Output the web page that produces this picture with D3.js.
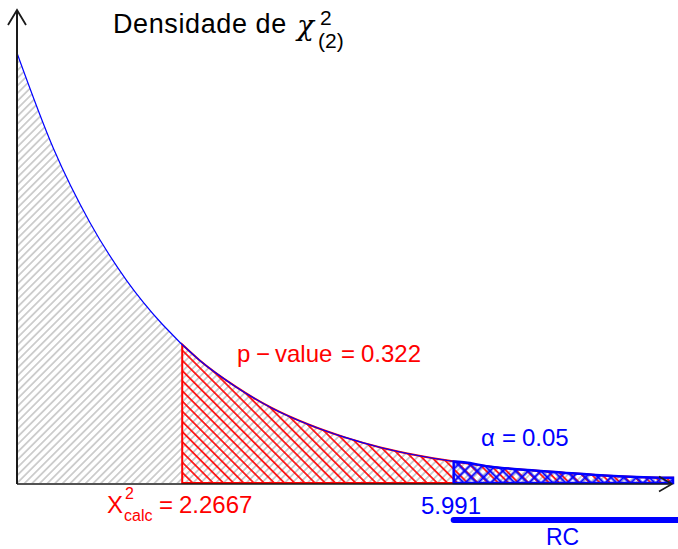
<!DOCTYPE html>
<html>
<head>
<meta charset="utf-8">
<script src="https://cdn.jsdelivr.net/npm/d3@7"></script>
<style>
  body { margin: 0; background: #fff; }
  svg { display: block; font-family: "Liberation Sans", Arial, sans-serif; }
</style>
</head>
<body>
<div id="chart"></div>
<script>
// density of chi-square (2 df)
const xVals = [0, 0.5, 1, 1.5, 2, 2.5, 3, 3.5, 4, 4.5, 5, 5.5, 6, 6.5, 7, 7.5, 8, 8.5, 9];
const densVals = [0.5, 0.389, 0.303, 0.236, 0.184, 0.143, 0.112, 0.087, 0.068, 0.053,
  0.041, 0.032, 0.025, 0.019, 0.015, 0.012, 0.009, 0.007, 0.006];
const xCalc = 2.2667;
const dCalc = 0.161;
const xCrit = 5.991;
const dCrit = 0.025;
const labels = { pValue: '0.322', alpha: '0.05', calc: '2.2667', crit: '5.991' };

const WIDTH = 678;
const HEIGHT = 549;
const RED = '#ff0000';
const BLUE = '#0000ff';

const $svg = d3.select('#chart').append('svg')
  .attr('width', WIDTH).attr('height', HEIGHT);

const scaleX = d3.scaleLinear().domain([0, 9]).range([17, 673]);
const scaleY = d3.scaleLinear().domain([0, 0.5]).range([483, 53]);

const points = xVals.map((x, i) => ({ x, y: densVals[i] }));
const from = (x0, y0) => [{ x: x0, y: y0 }].concat(points.filter(d => d.x > x0));

// hatch patterns
const $defs = $svg.append('defs');
function hatch(id, angles, gap, color, w) {
  angles.forEach((a, i) => {
    const $p = $defs.append('pattern')
      .attr('id', `${id}-${i}`)
      .attr('patternUnits', 'userSpaceOnUse')
      .attr('width', gap).attr('height', 10)
      .attr('patternTransform', `rotate(${a})`);
    $p.append('line')
      .attr('x1', gap / 2).attr('x2', gap / 2)
      .attr('y1', 0).attr('y2', 10)
      .attr('stroke', color).attr('stroke-width', w);
  });
}
hatch('gray', [45], 5.4, '#bebebe', 1.4);
hatch('red', [-45], 7.2, RED, 1.6);
hatch('blue', [45, -45], 9, BLUE, 2);

const area = d3.area()
  .x(d => scaleX(d.x)).y0(scaleY(0)).y1(d => scaleY(d.y))
  .curve(d3.curveMonotoneX);
const line = d3.line()
  .x(d => scaleX(d.x)).y(d => scaleY(d.y))
  .curve(d3.curveMonotoneX);

const $vis = $svg.append('g');

// whole area, gray
$vis.append('path').datum(points).attr('d', area)
  .attr('fill', 'url(#gray-0)');

// p-value region
const redPts = from(xCalc, dCalc);
$vis.append('path').datum(redPts).attr('d', area)
  .attr('fill', 'url(#red-0)');
$vis.append('path').datum(redPts).attr('d', d => area(d) + 'Z')
  .attr('fill', 'none').attr('stroke', RED).attr('stroke-width', 2);

// rejection region
const bluePts = from(xCrit, dCrit);
[0, 1].forEach(i => {
  $vis.append('path').datum(bluePts).attr('d', area)
    .attr('fill', `url(#blue-${i})`);
});
$vis.append('path').datum(bluePts).attr('d', d => area(d) + 'Z')
  .attr('fill', 'none').attr('stroke', BLUE).attr('stroke-width', 2.5);

// curve
$vis.append('path').datum(points).attr('d', line)
  .attr('fill', 'none').attr('stroke', BLUE).attr('stroke-width', 1.2);

// axes with arrows
const AX = '#1a1a1a';
const x0 = scaleX(0);
const yBase = scaleY(0) + 1;
$svg.append('line').attr('x1', x0).attr('x2', x0).attr('y1', yBase).attr('y2', 10)
  .attr('stroke', AX).attr('stroke-width', 2);
$svg.append('path').attr('d', `M${x0 - 9},25L${x0},10L${x0 + 9},25`)
  .attr('fill', 'none').attr('stroke', AX).attr('stroke-width', 1.8);
$svg.append('line').attr('x1', x0).attr('x2', 672).attr('y1', yBase).attr('y2', yBase)
  .attr('stroke', AX).attr('stroke-width', 1.6);
$svg.append('path').attr('d', `M659,${yBase - 7.5}L672,${yBase}L659,${yBase + 7.5}`)
  .attr('fill', 'none').attr('stroke', AX).attr('stroke-width', 1.6);

// place text pieces at given x positions
function pieces(parts, y, size, color) {
  parts.forEach(([x, t, s, dy]) => {
    $svg.append('text')
      .attr('x', x).attr('y', y + (dy || 0))
      .attr('font-size', s || size)
      .attr('fill', color)
      .text(t);
  });
}

// title
pieces([[113, 'Densidade de']], 33, 27, '#000');
$svg.select('text:last-of-type').attr('letter-spacing', 0.6);
$svg.append('text').attr('x', 297).attr('y', 35)
  .attr('font-size', 28).attr('font-style', 'italic')
  .attr('font-family', '"DejaVu Serif", serif').text('χ');
pieces([[320, '2', 21, -9], [318, '(2)', 21, 14]], 34, 21, '#000');

// p-value label
pieces([
  [237, 'p'], [256, '\u2212'], [275, 'value'], [341, '='], [361, labels.pValue],
], 362, 24, RED);

// alpha label
pieces([[481, 'α'], [502, '='], [522, labels.alpha]], 446, 24, BLUE);

// X2calc label
pieces([
  [107, 'X'], [125, '2', 16, -14], [124, 'calc', 16, 8], [159, '='], [179, labels.calc],
], 513, 24, RED);

// critical value and RC bar
pieces([[421, labels.crit]], 514, 24, BLUE);
$svg.append('line').attr('x1', scaleX(xCrit)).attr('x2', WIDTH + 5)
  .attr('y1', 520).attr('y2', 520)
  .attr('stroke', BLUE).attr('stroke-width', 6).attr('stroke-linecap', 'round');
pieces([[546, 'RC']], 545, 23, BLUE);
</script>
</body>
</html>
